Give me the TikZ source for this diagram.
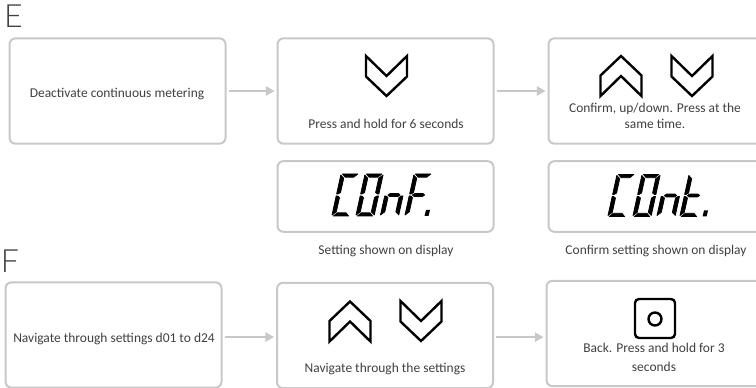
\documentclass[tikz,border=0pt]{standalone}
\usepackage{fontspec}
\setmainfont{Carlito}
\newfontfamily\thinfont{Lato Light}
\usetikzlibrary{arrows.meta}
\definecolor{boxgray}{HTML}{C8C8C8}
\definecolor{txt}{HTML}{404040}
\newcommand{\segA}{\filldraw[lcd] (1.2,0)--(13.8,0)--(11,3.2)--(4,3.2)--cycle;}
\newcommand{\segB}{\filldraw[lcd] (15,1)--(12,4.2)--(12,18.5)--(13.8,20)--(15,20)--cycle;}
\newcommand{\segC}{\filldraw[lcd] (15,22)--(13.8,22)--(12,23.5)--(12,37.8)--(15,41)--cycle;}
\newcommand{\segD}{\filldraw[lcd] (4,38.8)--(11,38.8)--(13.8,42)--(1.2,42)--cycle;}
\newcommand{\segE}{\filldraw[lcd] (0,22)--(1.2,22)--(3,23.5)--(3,37.8)--(0,41)--cycle;}
\newcommand{\segF}{\filldraw[lcd] (0,1)--(3,4.2)--(3,18.5)--(1.2,20)--(0,20)--cycle;}
\newcommand{\segG}{\filldraw[lcd] (2.5,21)--(4,19.6)--(11,19.6)--(12.5,21)--(11,22.4)--(4,22.4)--cycle;}
\newcommand{\lcddigit}[3]{\begin{scope}[shift={(#1,#2)},xslant=0.22,xscale=1.22]#3\end{scope}}
\newcommand{\chevdown}[2]{\draw[chev,shift={(#1,#2)}] (-20.5,0)--(0,20)--(20.5,0)--(20.5,20.5)--(0,40)--(-20.5,20.5)--cycle;}
\newcommand{\chevup}[2]{\draw[chev,shift={(#1,#2)}] (0,0)--(20.5,19.5)--(20.5,40)--(0,20)--(-20.5,40)--(-20.5,19.5)--cycle;}
\tikzset{
  x=0.75pt,y=-0.75pt,
  panel/.style={draw=boxgray,line width=1.5pt,rounded corners=4.5pt,minimum width=162pt,inner sep=0pt,fill=none},
  tall/.style={panel,minimum height=79pt},
  flat/.style={panel,minimum height=53pt},
  flow/.style={draw=boxgray,line width=1.2pt,-{Triangle[length=6.5pt,width=7pt]},shorten <=1.5pt,shorten >=1.5pt},
  lbl/.style={text=txt,font=\fontsize{10.1}{12}\selectfont,align=center,inner sep=0pt},
  head/.style={text=txt,font=\thinfont\fontsize{24}{24}\selectfont,inner sep=0pt},
  chev/.style={draw=black,line width=1.8pt,miter limit=10},
  lcd/.style={draw=black,fill=black,line width=0.55pt,line join=round},
}
\begin{document}
\begin{tikzpicture}
\clip (0,0) rectangle (756,388);
\node[head] (hE) at (13.5,16.5) {E};
\node[head] (hF) at (10,261.5) {F};
\node[tall] (e1) at (117.5,91) {};
\node[tall] (e2) at (385.5,91) {};
\node[tall] (e3) at (656.5,91) {};
\node[flat] (d1) at (385.5,196.5) {};
\node[flat] (d2) at (656.5,196.5) {};
\node[tall] (f1) at (113.5,335) {};
\node[tall] (f2) at (385,335.5) {};
\node[tall] (f3) at (654.5,333.5) {};
\draw[flow] (e1.east) -- (e2.west);
\draw[flow] (e2.east) -- (e3.west);
\draw[flow] ([yshift=-1.5pt]f1.east) -- ([yshift=-1.5pt]f1.east -| f2.west);
\draw[flow] ([yshift=-1.2pt]f2.east) -- ([yshift=-1.2pt]f2.east -| f3.west);
\node[lbl] (t1) at (117,94) {Deactivate continuous metering};
\node[lbl] (t2) at (386,124) {Press and hold for 6 seconds};
\node[lbl] (t3) at (655,115.5) {Confirm, up/down. Press at the\\same time.};
\node[lbl] (t4) at (386,251) {Setting shown on display};
\node[lbl] (t5) at (656,251) {Confirm setting shown on display};
\node[lbl] (t6) at (114,338.5) {Navigate through settings d01 to d24};
\node[lbl] (t7) at (385,368.5) {Navigate through the settings};
\node[lbl,font=\fontsize{10.1}{14.2}\selectfont] (t8) at (654,357) {Back. Press and hold for 3\\seconds};
\chevdown{386.5}{56}
\chevup{621}{56}
\chevdown{692}{56}
\chevup{350}{301.5}
\chevdown{421}{301}
\draw[black,line width=1.8pt,rounded corners=3pt] (635,299) rectangle (675,338);
\draw[black,line width=1.8pt] (655,319) circle[radius=6.5];
\lcddigit{341}{174}{\segA\segF\segE\segD}
\lcddigit{365}{174}{\segA\segB\segC\segD\segE\segF}
\lcddigit{389.5}{174}{\segE\segG\segC}
\lcddigit{414}{174}{\segA\segF\segE\segG}
\fill (426,210) -- (430,210) -- (428.5,216) -- (424.5,216) -- cycle;
\lcddigit{617}{174.5}{\segA\segF\segE\segD}
\lcddigit{642}{174.5}{\segA\segB\segC\segD\segE\segF}
\lcddigit{666}{174.5}{\segE\segG\segC}
\lcddigit{689}{174.5}{\segF\segE\segG\segD}
\fill (704,210.5) -- (708,210.5) -- (706.5,216.5) -- (702.5,216.5) -- cycle;
\end{tikzpicture}
\end{document}
